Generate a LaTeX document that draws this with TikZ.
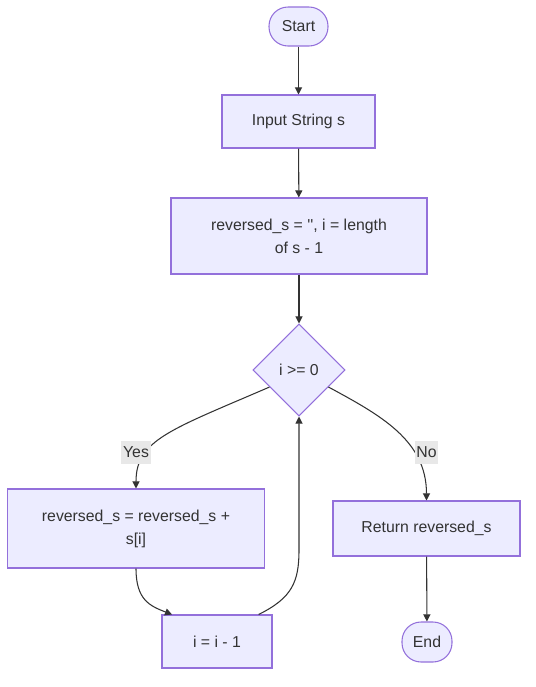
\documentclass[tikz,border=0pt]{standalone}
\usepackage{fontspec}
\setmainfont{Liberation Sans}[Ligatures=TeXOff]
\usetikzlibrary{shapes.geometric}
\usetikzlibrary{arrows.meta}

\definecolor{boxfill}{HTML}{ECECFF}
\definecolor{boxline}{HTML}{9370DB}
\definecolor{ink}{HTML}{333333}
\definecolor{lblfill}{HTML}{E8E8E8}

\begin{document}
\begin{tikzpicture} [x=0.02cm,y=-0.02cm,font=\fontsize{9}{13}\selectfont,text=ink,
  box/.style={draw=boxline,fill=boxfill,line width=0.6pt,inner sep=0pt,align=center},
  term/.style={box,rounded corners=0.38cm},
  flow/.style={ink,line width=0.6pt,-{Triangle[length=4pt,width=4pt]}},
  lbl/.style={fill=lblfill,inner sep=1pt,minimum height=0.46cm,text=ink}]

\useasboundingbox (0,0) rectangle (536,687);

\node[term,minimum width=1.18cm,minimum height=0.78cm] (start) at (298.5,26.5) {Start};
\node[box,minimum width=3.06cm,minimum height=1.06cm] (input) at (298.5,121.5) {Input String s};
\node[box,minimum width=5.12cm,minimum height=1.52cm] (init) at (299,236) {reversed\_s = '', i = length\\of s - 1};
\node[box,diamond,minimum width=1.84cm,minimum height=1.84cm] (check) at (299,370) {i >= 0};
\node[box,minimum width=5.14cm,minimum height=1.58cm] (append) at (136,528.5) {reversed\_s = reversed\_s +\\s[i]};
\node[box,minimum width=3.74cm,minimum height=1.1cm] (ret) at (426.5,528.5) {Return reversed\_s};
\node[box,minimum width=2.2cm,minimum height=1.06cm] (dec) at (217,641.5) {i = i - 1};
\node[term,minimum width=1cm,minimum height=0.8cm] (end) at (427,642) {End};

\draw[flow] (start) -- (input);
\draw[flow] (input) -- (init);
\draw[flow] (init) -- (check);
\draw[flow] (check.210) .. controls (170,430) and (136,440) .. (append);
\draw[flow] (check.-30) .. controls (380,415) and (426.5,440) .. (ret);
\draw[flow] (append) .. controls (136,600) and (150,606) .. (dec.149);
\draw[flow] (dec.33) .. controls (292,598) and (299,582) .. (299,550) -- (check);
\draw[flow] (ret) -- (end);

\node[lbl] (yes) at (136,452) {Yes};
\node[lbl] (no) at (426.5,452) {No};

\end{tikzpicture}
\end{document}
